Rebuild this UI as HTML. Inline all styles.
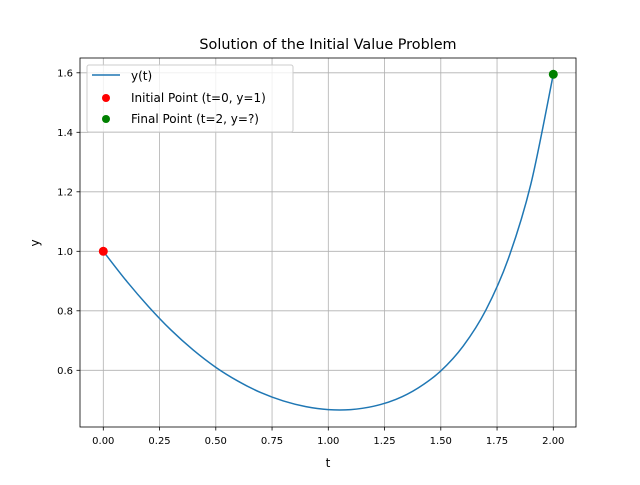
<!DOCTYPE html>
<html><head><meta charset="utf-8"><style>
body{margin:0;background:#fff;}
text{font-family:"DejaVu Sans","Liberation Sans",sans-serif;fill:#000;}
</style></head><body>
<svg id="chart" width="640" height="480" viewBox="0 0 640 480" xmlns="http://www.w3.org/2000/svg">
<rect width="640" height="480" fill="#fff"/>
<g id="grid"></g>
<g id="ticks"></g>
<path id="curve" fill="none" stroke="#1f77b4" stroke-width="1.5"/>
<g id="pts"></g>
<rect x="80" y="58" width="496" height="369" fill="none" stroke="#000" stroke-width="0.8"/>
<text x="328" y="49" font-size="14.4" text-anchor="middle">Solution of the Initial Value Problem</text>
<text x="328" y="467" font-size="12" text-anchor="middle">t</text>
<text transform="translate(39,243) rotate(-90)" font-size="12" text-anchor="middle">y</text>
<g>
<rect x="87" y="65" width="206" height="67" rx="2" fill="#fff" fill-opacity="0.8" stroke="#ccc" stroke-width="1"/>
<line x1="92" y1="75" x2="120" y2="75" stroke="#1f77b4" stroke-width="1.5"/>
<text x="131" y="80" font-size="12">y(t)</text>
<circle cx="106" cy="98" r="4" fill="red"/>
<text x="131" y="102" font-size="12">Initial Point (t=0, y=1)</text>
<circle cx="106" cy="119" r="4" fill="green"/>
<text x="131" y="123" font-size="12">Final Point (t=2, y=?)</text>
</g>
</svg>
<script>
const tVals=[0,0.1,0.2,0.3,0.4,0.5,0.6,0.7,0.8,0.9,1.0,1.1,1.2,1.3,1.4,1.5,1.6,1.7,1.8,1.9,2.0];
const yVals=[1.0,0.903,0.815,0.736,0.668,0.610,0.563,0.525,0.497,0.478,0.468,0.468,0.479,0.502,0.541,0.598,0.682,0.802,0.975,1.225,1.595];
const xTicks=[0,0.25,0.5,0.75,1.0,1.25,1.5,1.75,2.0];
const xTickLabels=["0.00","0.25","0.50","0.75","1.00","1.25","1.50","1.75","2.00"];
const yTicks=[0.6,0.8,1.0,1.2,1.4,1.6];
const yTickLabels=["0.6","0.8","1.0","1.2","1.4","1.6"];
const initPoint=[0,1];
const finalPoint=[2,1.595];
const NS="http://www.w3.org/2000/svg";
const X=t=>103.3+t*225;
const Y=v=>251.3-(v-1)*297.5;
function mk(tag,attrs,parent){const e=document.createElementNS(NS,tag);for(const k in attrs)e.setAttribute(k,attrs[k]);parent.appendChild(e);return e;}
const grid=document.getElementById('grid'),ticks=document.getElementById('ticks');
xTicks.forEach((t,i)=>{
 const g=mk('line',{x1:X(t),x2:X(t),y1:58,y2:427,stroke:'#b0b0b0','stroke-width':0.8},grid);
 
 
 const tk=mk('line',{x1:X(t),x2:X(t),y1:427,y2:430.5,stroke:'#000','stroke-width':0.8},ticks);
 
 
 const tx=mk('text',{x:X(t),y:444,'font-size':10,'text-anchor':'middle'},ticks);
 tx.textContent=xTickLabels[i];
 
 
});
yTicks.forEach((v,i)=>{
 const g=mk('line',{x1:80,x2:576,y1:Y(v),y2:Y(v),stroke:'#b0b0b0','stroke-width':0.8},grid);
 
 
 const tk=mk('line',{x1:76.5,x2:80,y1:Y(v),y2:Y(v),stroke:'#000','stroke-width':0.8},ticks);
 
 
 const tx=mk('text',{x:73,y:Y(v)+3.5,'font-size':10,'text-anchor':'end'},ticks);
 tx.textContent=yTickLabels[i];
 
 
});
const P=tVals.map((t,i)=>[X(t),Y(yVals[i])]);
let d='M'+P[0][0]+','+P[0][1];
for(let i=0;i<P.length-1;i++){
 const p0=P[Math.max(i-1,0)],p1=P[i],p2=P[i+1],p3=P[Math.min(i+2,P.length-1)];
 const c1=[p1[0]+(p2[0]-p0[0])/6,p1[1]+(p2[1]-p0[1])/6];
 const c2=[p2[0]-(p3[0]-p1[0])/6,p2[1]-(p3[1]-p1[1])/6];
 d+=' C'+c1+' '+c2+' '+p2;
}
document.getElementById('curve').setAttribute('d',d);
const pts=document.getElementById('pts');
const c1=mk('circle',{cx:X(initPoint[0]),cy:Y(initPoint[1]),r:4.5,fill:'red'},pts);


const c2=mk('circle',{cx:X(finalPoint[0]),cy:Y(finalPoint[1]),r:4.5,fill:'green'},pts);


</script>
</body></html>
